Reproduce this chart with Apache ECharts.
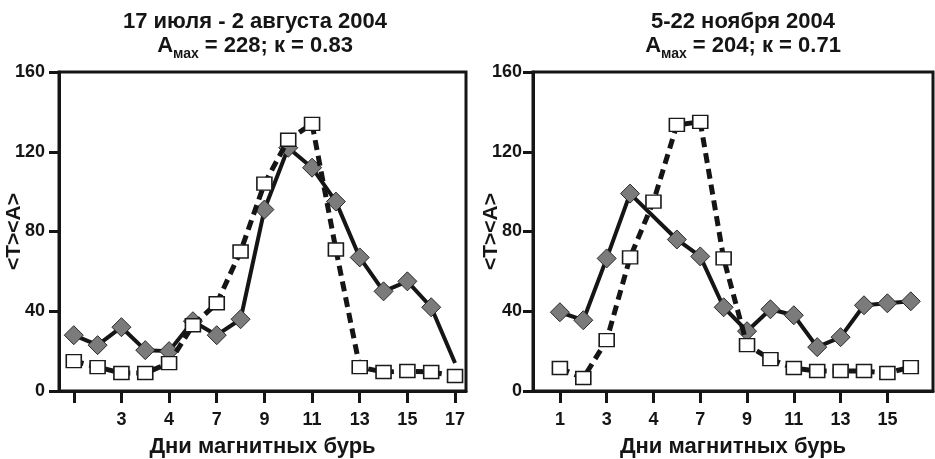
<!DOCTYPE html>
<html>
<head>
<meta charset="utf-8">
<script src="https://cdn.jsdelivr.net/npm/echarts@6/dist/echarts.min.js"></script>
<style>html,body{margin:0;padding:0;background:#fff}#c{width:935px;height:459px}</style>
</head>
<body>
<div id="c"></div>
<script>
// ---- data ----
const leftDays = [1,2,3,4,5,6,7,8,9,10,11,12,13,14,15,16,17];
const leftDiamonds = [28, 23, 32, 20.5, 20, 35, 28, 36, 91, 122, 112, 95, 67, 50, 55, 42, 14];
const leftSquares = [15, 12, 9, 9, 14, 33, 44, 70, 104, 126, 134, 71, 12, 9.5, 10, 9.5, 7.5];
const leftTickDays = [1,3,5,7,9,11,13,15,17];
const leftTickLabels = ['', '3', '4', '7', '9', '11', '13', '15', '17'];

const rightDays = [1,2,3,4,5,6,7,8,9,10,11,12,13,14,15,16];
const rightDiamonds = [39.5, 35.5, 66.5, 99, null, 76, 67.5, 42, 30, 41, 38, 22, 27, 43, 44, 45];
const rightSquares = [11.5, 6.5, 25.5, 67, 95, 133.5, 135, 66.5, 23, 16, 11.5, 10, 10, 10, 9, 12];
const rightTickDays = [1,3,5,7,9,11,13,15];
const rightTickLabels = ['1', '3', '4', '7', '9', '11', '13', '15'];

const yTicks = [0, 40, 80, 120, 160];
const leftTitle1 = '17 июля - 2 августа 2004';
const leftTitle2 = ['A', 'мах', ' = 228; к = 0.83'];
const rightTitle1 = '5-22 ноября 2004';
const rightTitle2 = ['A', 'мах', ' = 204; к = 0.71'];
const xName = 'Дни магнитных бурь';
const yName = '<T><A>';

// ---- styling ----
const FONT = "'Liberation Sans Narrow', 'Arial Narrow', 'Liberation Sans', Arial, sans-serif";
const INK = '#151515';

function titleOpt(l1, l2, cx) {
  return {
    text: '{t|' + l1 + '}\n{t|' + l2[0] + '}{s|' + l2[1] + '}{t|' + l2[2] + '}',
    left: cx, top: 10, textAlign: 'center', padding: 0,
    textStyle: {
      rich: {
        t: {fontFamily: FONT, fontWeight: 'bold', fontSize: 22, color: INK, lineHeight: 24},
        s: {fontFamily: FONT, fontWeight: 'bold', fontSize: 14, color: INK, lineHeight: 24, verticalAlign: 'bottom', padding: [0,0,-3,0]}
      }
    }
  };
}

function xAxisOpt(gi, min, max, tickDays, tickLabels) {
  return {
    type: 'value', gridIndex: gi, min: min, max: max,
    name: xName, nameLocation: 'middle', nameGap: 45,
    nameTextStyle: {fontFamily: FONT, fontWeight: 'bold', fontSize: 22, color: INK},
    axisLine: {show: true, onZero: false, lineStyle: {color: INK, width: 3}},
    axisTick: {show: true, inside: false, length: 12, lineStyle: {color: INK, width: 3}, customValues: tickDays},
    axisLabel: {
      show: true, margin: 20, fontFamily: FONT, fontWeight: 'bold', fontSize: 18, color: INK,
      customValues: tickDays,
      formatter: v => tickLabels[tickDays.indexOf(Math.round(v))] || ''
    },
    splitLine: {show: false}
  };
}

function yAxisOpt(gi, gap, margin) {
  return {
    type: 'value', gridIndex: gi, min: 0, max: 160, interval: 40,
    name: yName, nameLocation: 'middle', nameGap: gap, nameRotate: 90, nameMoveOverlap: false,
    nameTextStyle: {fontFamily: FONT, fontWeight: 'bold', fontSize: 21, color: INK},
    axisLine: {show: true, onZero: false, lineStyle: {color: INK, width: 3}},
    axisTick: {show: true, inside: false, length: 10, lineStyle: {color: INK, width: 3}},
    axisLabel: {show: true, margin: margin, fontFamily: FONT, fontWeight: 'bold', fontSize: 18, color: INK,
      customValues: yTicks},
    splitLine: {show: false}
  };
}

function pairs(days, vals) { return days.map((d, i) => [d, vals[i]]); }

function diamondSeries(gi, days, vals, lastNoSymbol) {
  const data = pairs(days, vals).map((p, i) => {
    if (lastNoSymbol && i === days.length - 1) return {value: p, symbol: 'none'};
    return p;
  });
  return {
    type: 'line', xAxisIndex: gi, yAxisIndex: gi, data: data, connectNulls: true,
    symbol: 'diamond', symbolSize: [19, 19], showSymbol: true,
    lineStyle: {color: INK, width: 4},
    itemStyle: {color: '#7b7b7b', borderColor: '#2a2a2a', borderWidth: 1},
    z: 2, animation: false, silent: true
  };
}

function squareSeries(gi, days, vals) {
  return {
    type: 'line', xAxisIndex: gi, yAxisIndex: gi, data: pairs(days, vals),
    symbol: 'rect', symbolSize: [15, 13], showSymbol: true,
    lineStyle: {color: INK, width: 5, type: [10, 6]},
    itemStyle: {color: '#ffffff', borderColor: '#1a1a1a', borderWidth: 1.5},
    z: 3, animation: false, silent: true
  };
}

const gridCommon = {show: true, borderColor: INK, borderWidth: 3, backgroundColor: 'transparent',
  containLabel: false, outerBoundsMode: 'none'};

const chart = echarts.init(document.getElementById('c'), null, {renderer: 'canvas'});
chart.setOption({
  backgroundColor: '#ffffff',
  animation: false,
  title: [titleOpt(leftTitle1, leftTitle2, 255), titleOpt(rightTitle1, rightTitle2, 743)],
  grid: [
    Object.assign({left: 59, top: 72, width: 407, height: 319}, gridCommon),
    Object.assign({left: 533, top: 72, width: 400, height: 319}, gridCommon)
  ],
  xAxis: [
    xAxisOpt(0, 0.38, 17.46, leftTickDays, leftTickLabels),
    xAxisOpt(1, -0.15, 16.95, rightTickDays, rightTickLabels)
  ],
  yAxis: [yAxisOpt(0, 34, 14), yAxisOpt(1, 31, 11)],
  series: [
    diamondSeries(0, leftDays, leftDiamonds, true),
    squareSeries(0, leftDays, leftSquares),
    diamondSeries(1, rightDays, rightDiamonds, false),
    squareSeries(1, rightDays, rightSquares)
  ]
});
</script>
</body>
</html>
